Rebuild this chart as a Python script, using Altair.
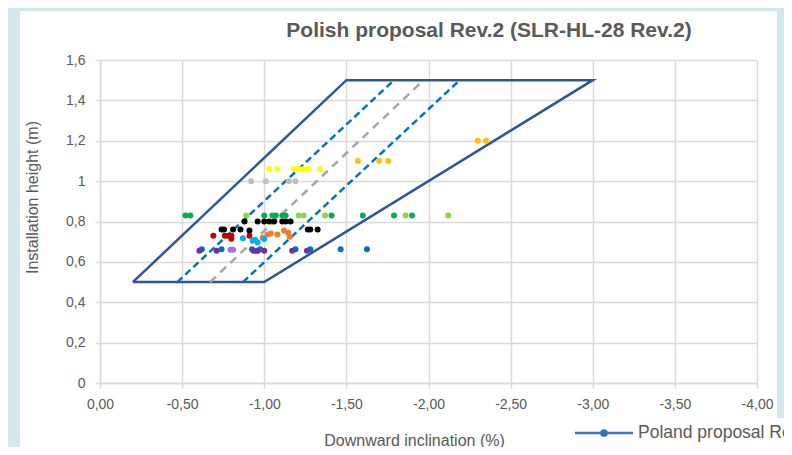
import altair as alt
import pandas as pd

# ---- boundary series (Poland proposal Rev.2) ----
outer_x = [-0.2, -1.5, -3.0, -1.0, -0.2]
outer_y = [0.5, 1.5, 1.5, 0.5, 0.5]
dash_y = [0.5, 1.5]
dash_left_x = [-0.47, -1.79]
dash_right_x = [-0.87, -2.19]
center_x = [-0.67, -1.97]

# ---- measured vehicles (scatter series) ----
yellow_x = [-1.03, -1.08, -1.18, -1.21, -1.24, -1.27, -1.34]
yellow_y = [1.06, 1.06, 1.06, 1.06, 1.06, 1.06, 1.06]
grey_x = [-0.92, -1.01, -1.15, -1.19]
grey_y = [1.0, 1.0, 1.0, 1.0]
lightgreen_x = [-0.89, -1.21, -1.24, -1.37, -1.86, -2.12]
lightgreen_y = [0.83, 0.83, 0.83, 0.83, 0.83, 0.83]
green_x = [-0.52, -0.55, -1.0, -1.05, -1.07, -1.11, -1.13, -1.41, -1.60, -1.79, -1.90]
green_y = [0.83, 0.83, 0.83, 0.83, 0.83, 0.83, 0.83, 0.83, 0.83, 0.83, 0.83]
black_x = [-0.88, -0.96, -1.0, -1.03, -1.06, -1.11, -1.13, -1.16,
           -0.74, -0.755, -0.81, -0.855, -0.91, -1.265, -1.28, -1.325]
black_y = [0.80, 0.80, 0.80, 0.80, 0.80, 0.80, 0.80, 0.80,
           0.76, 0.76, 0.76, 0.76, 0.755, 0.76, 0.76, 0.76]
darkred_x = [-0.69, -0.76, -0.78, -0.80, -0.80, -0.91]
darkred_y = [0.73, 0.73, 0.73, 0.73, 0.715, 0.73]
orange_x = [-0.99, -1.02, -1.04, -1.08, -1.12, -1.145, -1.155]
orange_y = [0.72, 0.735, 0.74, 0.735, 0.755, 0.745, 0.725]
lightblue_x = [-0.87, -0.93, -0.945, -0.96, -1.0]
lightblue_y = [0.717, 0.706, 0.71, 0.696, 0.713]
blue_x = [-0.62, -0.74, -0.925, -0.975, -1.19, -1.28, -1.465, -1.625]
blue_y = [0.662, 0.662, 0.662, 0.662, 0.662, 0.662, 0.662, 0.662]
purple_x = [-0.605, -0.71, -0.935, -0.95, -0.96, -1.0, -1.17, -1.26]
purple_y = [0.655, 0.655, 0.655, 0.655, 0.655, 0.655, 0.655, 0.655]
lavender_x = [-0.795, -0.81]
lavender_y = [0.66, 0.66]
gold_x = [-1.57, -1.70, -1.755, -2.30, -2.35]
gold_y = [1.10, 1.10, 1.10, 1.20, 1.20]

x_ticks = [0, -0.5, -1.0, -1.5, -2.0, -2.5, -3.0, -3.5, -4.0]
y_ticks = [0, 0.2, 0.4, 0.6, 0.8, 1.0, 1.2, 1.4, 1.6]

title_text = "Polish proposal Rev.2 (SLR-HL-28 Rev.2)"
x_title = "Downward inclination (%)"
y_title = "Installation height (m)"
legend_text = "Poland proposal Rev.2"

series = [
    ("Yellow", yellow_x, yellow_y, "#FFFF00"),
    ("Grey", grey_x, grey_y, "#BFBFBF"),
    ("Light green", lightgreen_x, lightgreen_y, "#92D050"),
    ("Green", green_x, green_y, "#00B050"),
    ("Black", black_x, black_y, "#000000"),
    ("Dark red", darkred_x, darkred_y, "#C00000"),
    ("Orange", orange_x, orange_y, "#ED7D31"),
    ("Light blue", lightblue_x, lightblue_y, "#00B0F0"),
    ("Blue", blue_x, blue_y, "#0070C0"),
    ("Purple", purple_x, purple_y, "#7030A0"),
    ("Lavender", lavender_x, lavender_y, "#A06CF2"),
    ("Gold", gold_x, gold_y, "#FFC000"),
]
rows = []
for name, xs, ys, _ in series:
    for a, b in zip(xs, ys):
        rows.append({"series": name, "x": a, "y": b})
pts = pd.DataFrame(rows)

outer = pd.DataFrame({"x": outer_x, "y": outer_y, "i": list(range(len(outer_x)))})
dashes = pd.DataFrame({
    "x": dash_left_x + dash_right_x,
    "y": dash_y + dash_y,
    "line": ["left", "left", "right", "right"],
})
center = pd.DataFrame({"x": center_x, "y": dash_y})

FONT = "Liberation Sans"
GREY_TXT = "#595959"
GRID = "#D9D9D9"
TEAL = "#D3E8EC"

xscale = alt.Scale(domain=[0, -4], nice=False)
yscale = alt.Scale(domain=[0, 1.6], nice=False)

xaxis = alt.Axis(
    values=x_ticks,
    labelExpr="replace(replace(format(datum.value, '.2f'), '.', ','), '\u2212', '-')",
    labelFlush=False, labelOverlap=False,
    title=x_title, titleX=314, titleY=57, titleBaseline="middle", titleAlign="center",
    grid=True, gridColor=GRID, gridWidth=1.5, domainColor=GRID, domainWidth=1.5,
    tickColor=GRID, tickSize=5, tickWidth=1.5, labelPadding=9,
    labelFontSize=14, labelColor=GREY_TXT, labelFont=FONT,
    titleFontSize=16, titleColor=GREY_TXT, titleFont=FONT, titleFontWeight="normal",
)
yaxis = alt.Axis(
    values=y_ticks,
    labelExpr="replace(format(datum.value, '~g'), '.', ',')",
    labelFlush=False, labelOverlap=False,
    title=y_title, titleX=-68, titleY=137, titleBaseline="middle", titleAlign="center",
    titleAngle=270,
    grid=True, gridColor=GRID, gridWidth=1.5, domainColor=GRID, domainWidth=1.5,
    tickColor=GRID, tickSize=5, tickWidth=1.5, labelPadding=10,
    labelFontSize=14, labelColor=GREY_TXT, labelFont=FONT,
    titleFontSize=16, titleColor=GREY_TXT, titleFont=FONT, titleFontWeight="normal",
)

one = pd.DataFrame({"t": [title_text]})

# decorative teal frame around the white panel
teal_top = alt.Chart(one).mark_rect(color=TEAL).encode(
    x=alt.value(-92), x2=alt.value(684), y=alt.value(-52), y2=alt.value(-49))
teal_left = alt.Chart(one).mark_rect(color=TEAL).encode(
    x=alt.value(-92), x2=alt.value(-80), y=alt.value(-52), y2=alt.value(387))
teal_right = alt.Chart(one).mark_rect(color=TEAL).encode(
    x=alt.value(677), x2=alt.value(684), y=alt.value(-52), y2=alt.value(358))

base_outer = alt.Chart(outer).mark_line(color="#2F5597", strokeWidth=2.5).encode(
    x=alt.X("x:Q", scale=xscale, axis=xaxis),
    y=alt.Y("y:Q", scale=yscale, axis=yaxis),
    order="i:Q",
)
dash_layer = alt.Chart(dashes).mark_line(color="#0070C0", strokeWidth=2.5, strokeDash=[7, 4]).encode(
    x=alt.X("x:Q", scale=xscale), y=alt.Y("y:Q", scale=yscale), detail="line:N")
center_layer = alt.Chart(center).mark_line(color="#A5A5A5", strokeWidth=2.5, strokeDash=[8, 6]).encode(
    x=alt.X("x:Q", scale=xscale), y=alt.Y("y:Q", scale=yscale))

points = alt.Chart(pts).mark_circle(size=36, opacity=1).encode(
    x=alt.X("x:Q", scale=xscale),
    y=alt.Y("y:Q", scale=yscale),
    color=alt.Color("series:N",
                    scale=alt.Scale(domain=[s[0] for s in series], range=[s[3] for s in series]),
                    legend=None),
)

title_mark = alt.Chart(one).mark_text(
    font=FONT, fontSize=21, fontWeight="bold", color=GREY_TXT, align="center", baseline="middle"
).encode(x=alt.value(389), y=alt.value(-29), text="t:N")

leg_df = pd.DataFrame({"t": [legend_text]})
leg_box = alt.Chart(leg_df).mark_rect(color="white").encode(
    x=alt.value(465), x2=alt.value(684), y=alt.value(358), y2=alt.value(387))
leg_line = alt.Chart(leg_df).mark_rule(color="#4472C4", strokeWidth=2.5).encode(
    x=alt.value(475), x2=alt.value(533), y=alt.value(373))
leg_dot = alt.Chart(leg_df).mark_point(filled=True, size=60, color="#2E75B6", opacity=1).encode(
    x=alt.value(504), y=alt.value(373))
leg_text = alt.Chart(leg_df).mark_text(
    font=FONT, fontSize=17.5, color=GREY_TXT, align="left", baseline="middle"
).encode(x=alt.value(538), y=alt.value(373), text="t:N")

chart = alt.layer(
    teal_top, teal_left, teal_right,
    base_outer, dash_layer, center_layer, points,
    leg_box, leg_line, leg_dot, leg_text, title_mark,
).properties(
    width=657, height=323,
    autosize=alt.AutoSizeParams(type="none"),
    padding={"left": 92, "top": 52, "right": 27, "bottom": 64},
    background="white",
).configure_view(stroke=None)

chart.save("out.html", embed_options={"renderer": "svg", "actions": False})
